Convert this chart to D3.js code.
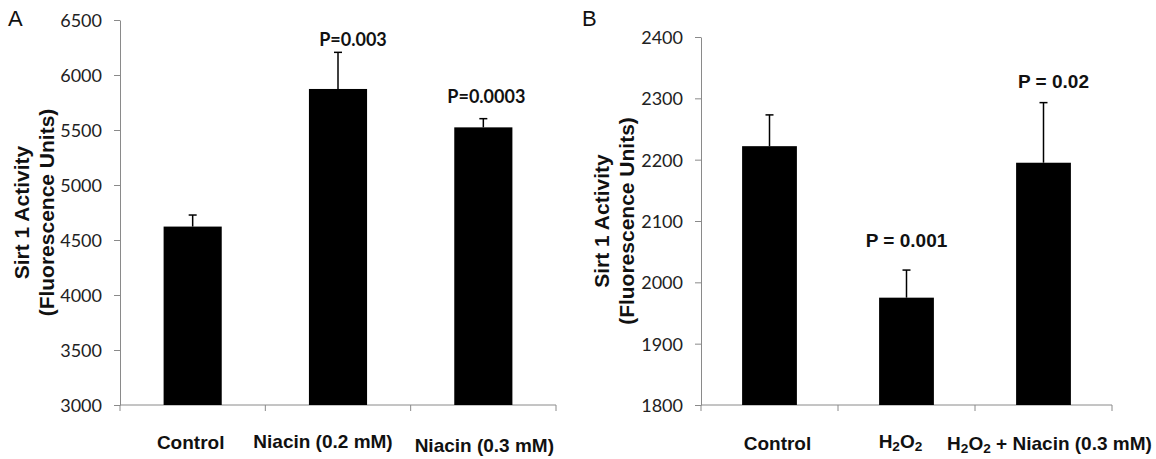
<!DOCTYPE html>
<html>
<head>
<meta charset="utf-8">
<script src="https://cdn.jsdelivr.net/npm/d3@7"></script>
<style>
  body { margin: 0; background: #fff; }
  svg { display: block; }
</style>
</head>
<body>
<div id="chart"></div>
<script>
// panel A data
const catsA = ["Control", "Niacin (0.2 mM)", "Niacin (0.3 mM)"];
const meanA = [4622, 5873, 5524];
const errA = [105, 333, 79];
const pA = ["", "P=0.003", "P=0.0003"];
const ticksA = [3000, 3500, 4000, 4500, 5000, 5500, 6000, 6500];

// panel B data
const catsB = ["Control", "H2O2", "H2O2 + Niacin (0.3 mM)"];
const meanB = [2222, 1975, 2195];
const errB = [51, 45, 98];
const pB = ["", "P = 0.001", "P = 0.02"];
const ticksB = [1800, 1900, 2000, 2100, 2200, 2300, 2400];

const yTitle = ["Sirt 1 Activity", "(Fluorescence Units)"];

const width = 1156;
const height = 459;

const svg = d3.select("#chart").append("svg")
  .attr("width", width)
  .attr("height", height);

// writes label text, turning the 2 in H2O2 into a subscript
const writeLabel = (sel, txt) => {
  const parts = txt.split(/(?<=[HO])(2)/);
  parts.forEach((p) => {
    if (p === "2") {
      sel.append("tspan").attr("baseline-shift", "-22%").attr("font-size", "0.72em").text("2");
    } else if (p.length) {
      sel.append("tspan").text(p);
    }
  });
};

/*
 * Draws one bar panel
 */
const drawPanel = (opt) => {
  const g = svg.append("g");

  const x = d3.scaleBand().domain(opt.cats).range([opt.x0, opt.x1]).padding(0);
  const y = d3.scaleLinear().domain(d3.extent(opt.ticks)).range([405, opt.yTop]);
  const barW = x.bandwidth() * 0.4;

  // panel letter
  g.append("text")
    .attr("x", opt.letterX)
    .attr("y", 26)
    .style("font-family", "'Liberation Sans', Arial, sans-serif")
    .style("font-size", "22px")
    .attr("fill", "#111")
    .text(opt.letter);

  // y-axis
  const yAxis = d3.axisLeft(y)
    .tickValues(opt.ticks)
    .tickFormat(d3.format("d"))
    .tickSize(6)
    .tickSizeOuter(0)
    .tickPadding(12);
  const ya = g.append("g")
    .attr("transform", "translate(" + opt.x0 + ",0)")
    .call(yAxis);
  ya.select(".domain").attr("stroke", "#8a8a8a");
  ya.selectAll(".tick line").attr("stroke", "#8a8a8a");
  ya.selectAll(".tick text")
    .style("font-family", "Lato, 'Open Sans', sans-serif")
    .style("font-size", "18px")
    .attr("fill", "#222")
    .attr("dy", "0.36em");

  // x-axis line and ticks at band edges
  g.append("line")
    .attr("x1", opt.x0).attr("x2", opt.x1)
    .attr("y1", y.range()[0]).attr("y2", y.range()[0])
    .attr("stroke", "#8a8a8a");
  const edges = opt.cats.map((c) => x(c)).concat([x(opt.cats[opt.cats.length - 1]) + x.step()]);
  g.selectAll(".xtick").data(edges).enter().append("line")
    .attr("x1", (d) => d).attr("x2", (d) => d)
    .attr("y1", y.range()[0]).attr("y2", y.range()[0] + 6)
    .attr("stroke", "#8a8a8a");

  // bars
  g.selectAll(".bar").data(opt.means).enter().append("rect")
    .attr("x", (d, i) => x(opt.cats[i]) + x.bandwidth() / 2 - barW / 2)
    .attr("y", (d) => y(d))
    .attr("width", barW)
    .attr("height", (d) => y.range()[0] - y(d))
    .attr("fill", "#000");

  // error bars (upper only)
  opt.means.forEach((m, i) => {
    const cx = x(opt.cats[i]) + x.bandwidth() / 2;
    g.append("line")
      .attr("x1", cx).attr("x2", cx)
      .attr("y1", y(m)).attr("y2", y(m + opt.errs[i]))
      .attr("stroke", "#000").attr("stroke-width", 1.5);
    g.append("line")
      .attr("x1", cx - 4).attr("x2", cx + 4)
      .attr("y1", y(m + opt.errs[i])).attr("y2", y(m + opt.errs[i]))
      .attr("stroke", "#000").attr("stroke-width", 1.5);
  });

  // p-values
  opt.ps.forEach((p, i) => {
    if (!p) return;
    g.append("text")
      .attr("x", x(opt.cats[i]) + x.bandwidth() / 2 + opt.pShift[i])
      .attr("y", y(opt.means[i] + opt.errs[i]) - opt.pGap[i])
      .attr("text-anchor", "middle")
      .style("font-family", opt.pFont)
      .style("font-weight", "bold")
      .style("font-size", opt.pSize)
      .attr("fill", "#111")
      .text(p);
  });

  // category labels
  opt.cats.forEach((c, i) => {
    const t = g.append("text")
      .attr("x", x(c) + x.bandwidth() / 2 + opt.labShift[i])
      .attr("y", 450 + opt.labDy[i])
      .attr("text-anchor", "middle")
      .style("font-family", "'Liberation Sans', Arial, sans-serif")
      .style("font-weight", "bold")
      .style("font-size", "19px")
      .attr("fill", "#111");
    writeLabel(t, c);
  });

  // y title
  const midY = (y.range()[0] + y.range()[1]) / 2;
  yTitle.forEach((line, i) => {
    const tx = opt.titleX + i * 25;
    g.append("text")
      .attr("transform", "translate(" + tx + "," + midY + ") rotate(-90)")
      .attr("text-anchor", "middle")
      .style("font-family", "'Liberation Sans', Arial, sans-serif")
      .style("font-weight", "bold")
      .style("font-size", "21px")
      .attr("fill", "#111")
      .text(line);
  });
};

drawPanel({
  letter: "A", letterX: 8,
  cats: catsA, means: meanA, errs: errA, ps: pA, ticks: ticksA,
  x0: 120, x1: 556, yTop: 20, titleX: 29,
  pFont: "Lato, 'Open Sans', sans-serif", pSize: "18px", pGap: [0, 6, 16], pShift: [0, 15, 3],
  labShift: [-2, -15, 1], labDy: [-1, -2, 2]
});

drawPanel({
  letter: "B", letterX: 582,
  cats: catsB, means: meanB, errs: errB, ps: pB, ticks: ticksB,
  x0: 701, x1: 1112, yTop: 37, titleX: 609,
  pFont: "'Liberation Sans', Arial, sans-serif", pSize: "19px", pGap: [0, 23, 15], pShift: [0, 0, 10],
  labShift: [8, -6, 6], labDy: [0, -2, 0]
});
</script>
</body>
</html>
